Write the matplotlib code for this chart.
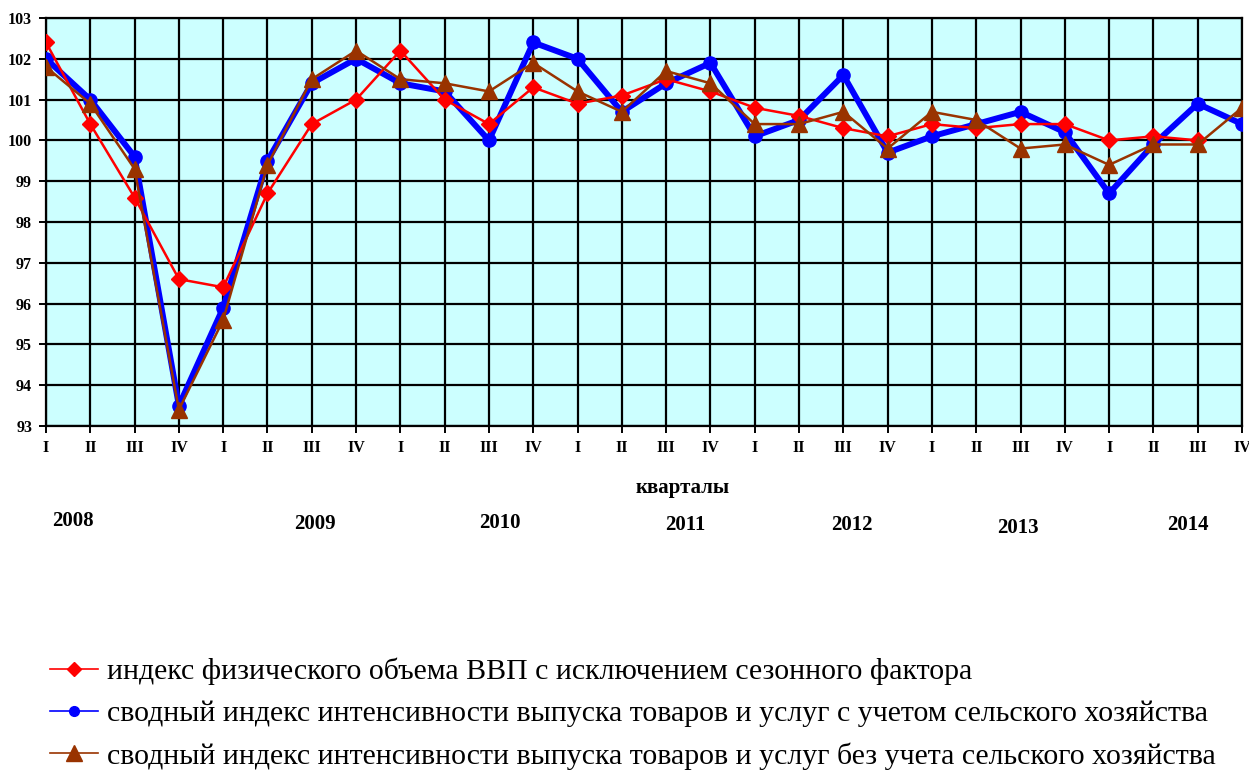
import matplotlib
matplotlib.use("Agg")
import matplotlib.pyplot as plt
from matplotlib.lines import Line2D
import numpy as np

quarters = ["I", "II", "III", "IV"] * 7
years = ["2008", "2009", "2010", "2011", "2012", "2013", "2014"]

gdp_sa = [102.4, 100.4, 98.6, 96.6,
          96.4, 98.7, 100.4, 101.0,
          102.2, 101.0, 100.4, 101.3,
          100.9, 101.1, 101.5, 101.2,
          100.8, 100.6, 100.3, 100.1,
          100.4, 100.3, 100.4, 100.4,
          100.0, 100.1, 100.0]
with_agri = [102.0, 101.0, 99.6, 93.5,
             95.9, 99.5, 101.4, 102.0,
             101.4, 101.2, 100.0, 102.4,
             102.0, 100.7, 101.4, 101.9,
             100.1, 100.5, 101.6, 99.7,
             100.1, 100.4, 100.7, 100.2,
             98.7, 99.9, 100.9, 100.4]
without_agri = [101.8, 100.9, 99.3, 93.4,
                95.6, 99.4, 101.5, 102.2,
                101.5, 101.4, 101.2, 101.9,
                101.2, 100.7, 101.7, 101.4,
                100.4, 100.4, 100.7, 99.8,
                100.7, 100.5, 99.8, 99.9,
                99.4, 99.9, 99.9, 100.8]

labels = ["индекс физического объема ВВП с исключением сезонного фактора",
          "сводный индекс интенсивности выпуска товаров и услуг с учетом сельского хозяйства",
          "сводный индекс интенсивности выпуска товаров и услуг без учета сельского хозяйства"]

plt.rcParams['font.family'] = ['Liberation Serif', 'DejaVu Serif']

fig = plt.figure(figsize=(12.49, 7.73), dpi=100)
ax = fig.add_axes([46/1249, 1-426/773, (1242-46)/1249, (426-18)/773])
ax.set_facecolor("#CCFFFF")

x = np.arange(len(quarters))
ax.plot(x[:len(gdp_sa)], gdp_sa, color="#FF0000", lw=1.8, marker="D", ms=8,
        mfc="#FF0000", mec="#FF0000", zorder=4)
ax.plot(x, with_agri, color="#0000FF", lw=4.3, marker="o", ms=9.5,
        mfc="#0000FF", mec="#0000FF", zorder=3)
ax.plot(x, without_agri, color="#993300", lw=1.8, marker="^", ms=12,
        mfc="#993300", mec="#993300", zorder=5)

ax.set_xlim(0, len(quarters)-1)
ax.set_ylim(93, 103)
ax.set_yticks(np.arange(93, 104, 1))
ax.set_xticks(x)
ax.set_xticklabels(quarters)
ax.grid(True, color="black", lw=1.6)
ax.set_axisbelow(True)
for s in ax.spines.values():
    s.set_color("black")
    s.set_linewidth(1.6)
    s.set_zorder(0.5)
ax.tick_params(axis="both", direction="out", length=5, width=1.4, color="black",
               labelsize=11.5, pad=5)
for t in ax.get_xticklabels() + ax.get_yticklabels():
    t.set_fontweight("bold")

fig.text(683/1249, 1-488/773, "кварталы", ha="center", va="center",
         fontsize=15, fontweight="bold")
year_pos = [(73, 521), (315, 524), (500, 523), (685, 525), (852, 525), (1018, 528), (1188, 525)]
for yr, (px, py) in zip(years, year_pos):
    fig.text(px/1249, 1-py/773, yr, ha="center", va="center", fontsize=15, fontweight="bold")

h1 = Line2D([], [], color="#FF0000", lw=1.2, marker="D", ms=7, mfc="#FF0000", mec="#FF0000")
h2 = Line2D([], [], color="#0000FF", lw=1.2, marker="o", ms=7, mfc="#0000FF", mec="#0000FF")
h3 = Line2D([], [], color="#993300", lw=1.2, marker="^", ms=12, mfc="#993300", mec="#993300")
fig.legend([h1, h2, h3], labels, loc="upper left", bbox_to_anchor=(38/1249, 1-646/773),
           frameon=False, prop={"family": "Liberation Serif", "size": 21.5},
           handlelength=1.6, handletextpad=0.3,
           labelspacing=0.5, borderaxespad=0)

fig.savefig("out.png", dpi=100)
